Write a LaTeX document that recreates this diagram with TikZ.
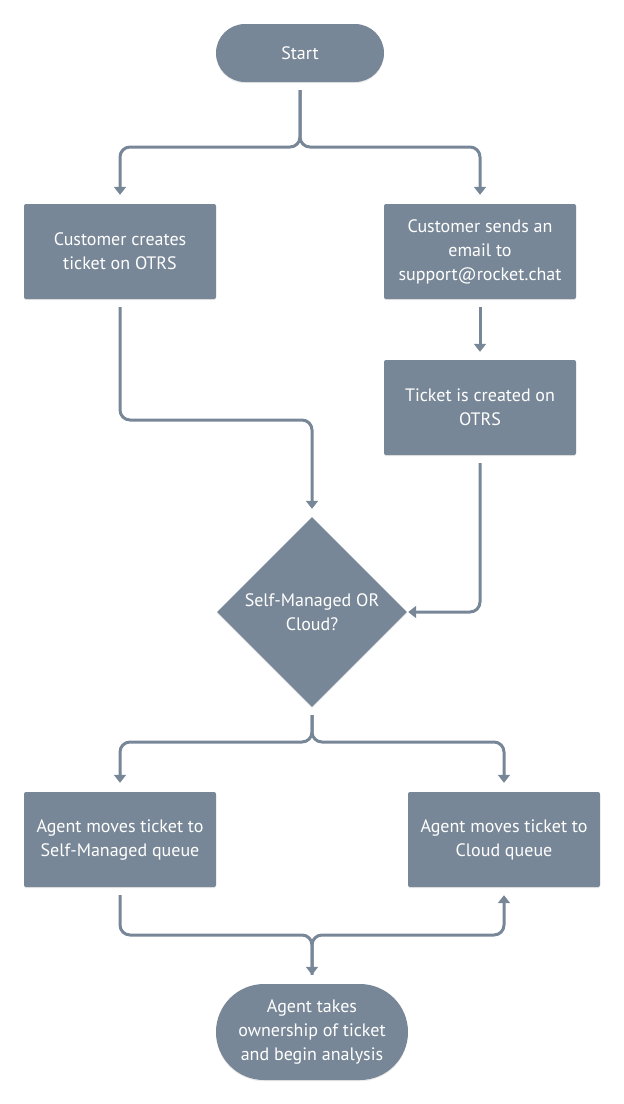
\documentclass[tikz,border=0pt]{standalone}
\usepackage{fontspec}
\setmainfont{PT Sans}
\usetikzlibrary{shapes.geometric,arrows.meta,shadows}
\definecolor{slate}{HTML}{788797}
\begin{document}
\begin{tikzpicture}[x=1pt,y=-1pt,
  every node/.style={font=\fontsize{18}{24}\selectfont, text=white, align=center},
  base/.style={fill=slate, draw=none, inner sep=0pt, drop shadow={opacity=0.18, shadow xshift=0pt, shadow yshift=-1.2pt}},
  box/.style={base, rectangle, rounded corners=2pt, minimum width=192pt, minimum height=95pt},
  pillA/.style={base, rectangle, rounded corners=29pt, minimum width=168pt, minimum height=58pt},
  pillB/.style={base, rectangle, rounded corners=48pt, minimum width=192pt, minimum height=96pt},
  decision/.style={base, diamond, minimum width=190pt, minimum height=190pt},
  conn/.style={draw=slate, line width=3pt, rounded corners=10pt, -{Triangle[length=8pt,width=12pt]}}
]
\useasboundingbox (0,0) rectangle (624,1104);
\node[pillA] (start) at (300,53) {Start};
\node[box] (A) at (120,251.5) {Customer creates\\ticket on OTRS};
\node[box] (B) at (480,251.5) {Customer sends an\\email to\\support@rocket.chat};
\node[box] (C) at (480,407.5) {Ticket is created on\\OTRS};
\node[decision] (Q) at (312,612) {Self-Managed OR\\Cloud?};
\node[box] (D) at (120,839.5) {Agent moves ticket to\\Self-Managed queue};
\node[box] (E) at (504,839.5) {Agent moves ticket to\\Cloud queue};
\node[pillB] (F) at (312,1032) {Agent takes\\ownership of ticket\\and begin analysis};

\coordinate (s0) at ([yshift=-8pt]start.south);
\draw[conn] (s0) |- (210,147) -| ([yshift=9pt]A.north);
\draw[conn] (s0) |- (390,147) -| ([yshift=9pt]B.north);
\draw[conn] ([yshift=-8pt]A.south) |- (220,420) -| ([yshift=8pt]Q.north);
\draw[conn] ([yshift=-8pt]B.south) -- ([yshift=8pt]C.north);
\draw[conn] ([yshift=-8pt]C.south) |- ([xshift=1pt]Q.east);
\coordinate (q0) at ([yshift=-8pt]Q.south);
\draw[conn] (q0) |- (220,742) -| ([yshift=9pt]D.north);
\draw[conn] (q0) |- (400,742) -| ([yshift=9pt]E.north);
\draw[conn] ([yshift=-8pt]D.south) |- (220,935) -| ([yshift=9pt]F.north);
\draw[conn] ([yshift=9pt]F.north) |- (400,935) -| ([yshift=-8pt]E.south);
\end{tikzpicture}
\end{document}
